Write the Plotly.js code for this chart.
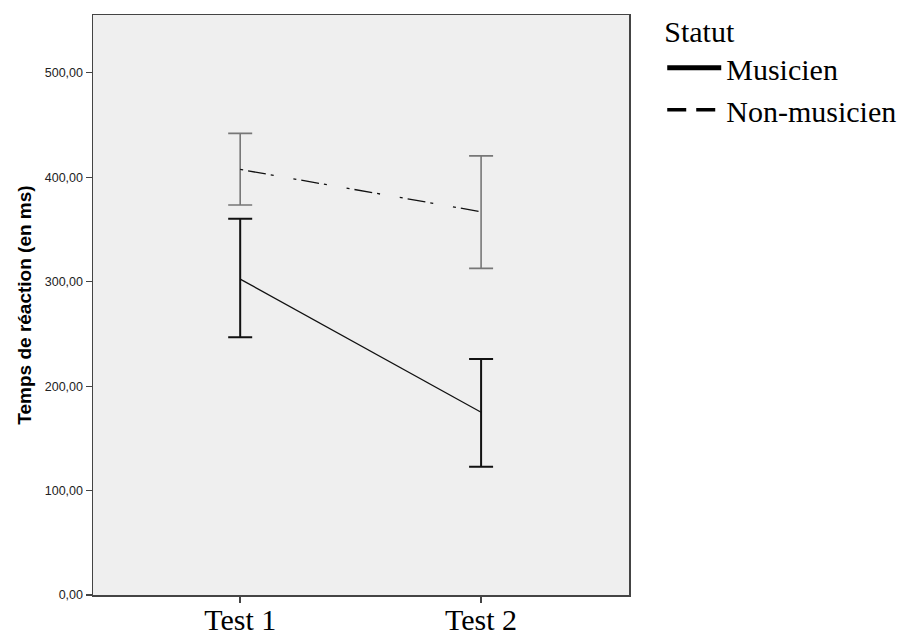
<!DOCTYPE html>
<html>
<head>
<meta charset="utf-8">
<script src="https://cdn.plot.ly/plotly-3.0.1.min.js"></script>
<style>body{margin:0;background:#fff;}#chart{width:920px;height:634px;}</style>
</head>
<body>
<div id="chart"></div>
<script>
const categories = ["Test 1", "Test 2"];
const musicienMean = [302.5, 175];
const musicienUpper = [360.3, 226];
const musicienLower = [246.8, 122.7];
const nonMusicienMean = [407.5, 367];
const nonMusicienUpper = [442, 420.5];
const nonMusicienLower = [373.4, 312.8];
const yTicks = [0, 100, 200, 300, 400, 500];

function plus(mean, up) { return mean.map((m, i) => up[i] - m); }
function minus(mean, lo) { return mean.map((m, i) => m - lo[i]); }

const traces = [
  {
    x: categories, y: nonMusicienMean, type: 'scatter', mode: 'lines',
    line: {color: '#111', width: 1.3, dash: '3px,5px,18px,5px,3px,20px'},
    error_y: {type: 'data', symmetric: false, array: plus(nonMusicienMean, nonMusicienUpper),
              arrayminus: minus(nonMusicienMean, nonMusicienLower), color: '#777', thickness: 1.6, width: 12},
    showlegend: false, hoverinfo: 'skip'
  },
  {
    x: categories, y: musicienMean, type: 'scatter', mode: 'lines',
    line: {color: '#111', width: 1.3},
    error_y: {type: 'data', symmetric: false, array: plus(musicienMean, musicienUpper),
              arrayminus: minus(musicienMean, musicienLower), color: '#111', thickness: 2, width: 12},
    showlegend: false, hoverinfo: 'skip'
  },
  {x: [null], y: [null], type: 'scatter', mode: 'lines', name: 'Musicien',
   line: {color: '#000', width: 5}},
  {x: [null], y: [null], type: 'scatter', mode: 'lines', name: 'Non-musicien',
   line: {color: '#000', width: 3.5, dash: '19px,10px'}}
];

const layout = {
  width: 920, height: 634,
  margin: {l: 93, r: 291, t: 15, b: 39, autoexpand: false},
  paper_bgcolor: '#ffffff',
  plot_bgcolor: '#efefef',
  separators: ',.',
  showlegend: true,
  legend: {
    x: 1.062, xanchor: 'left', y: 1.021, yanchor: 'top',
    title: {text: 'Statut', font: {family: 'Liberation Serif, Times New Roman, serif', size: 30, color: '#000'}},
    font: {family: 'Liberation Serif, Times New Roman, serif', size: 30, color: '#000'},
    bgcolor: 'rgba(0,0,0,0)', tracegroupgap: 0, itemwidth: 54
  },
  xaxis: {
    type: 'category', range: [-0.611, 1.614],
    tickmode: 'array', tickvals: categories, ticktext: categories,
    ticks: 'outside', ticklen: 6, tickwidth: 1.5, tickcolor: '#444',
    ticklabelstandoff: -9,
    tickfont: {family: 'Liberation Serif, Times New Roman, serif', size: 30, color: '#000'},
    showline: true, linecolor: '#444', linewidth: 1.5, mirror: true,
    showgrid: false, zeroline: false
  },
  yaxis: {
    range: [0, 555.4],
    tickmode: 'array', tickvals: yTicks, tickformat: '.2f',
    ticks: 'outside', ticklen: 6, tickwidth: 1.2, tickcolor: '#444',
    tickfont: {family: 'Liberation Sans, Arial, sans-serif', size: 12.5, color: '#222'},
    showline: true, linecolor: '#444', linewidth: 1.5, mirror: true,
    showgrid: false, zeroline: false,
    title: {text: 'Temps de réaction (en ms)', standoff: 8,
            font: {family: 'Liberation Sans, Arial, sans-serif', size: 19, color: '#000', weight: 'bold'}}
  }
};

Plotly.newPlot('chart', traces, layout, {displayModeBar: false, staticPlot: true});
</script>
</body>
</html>
